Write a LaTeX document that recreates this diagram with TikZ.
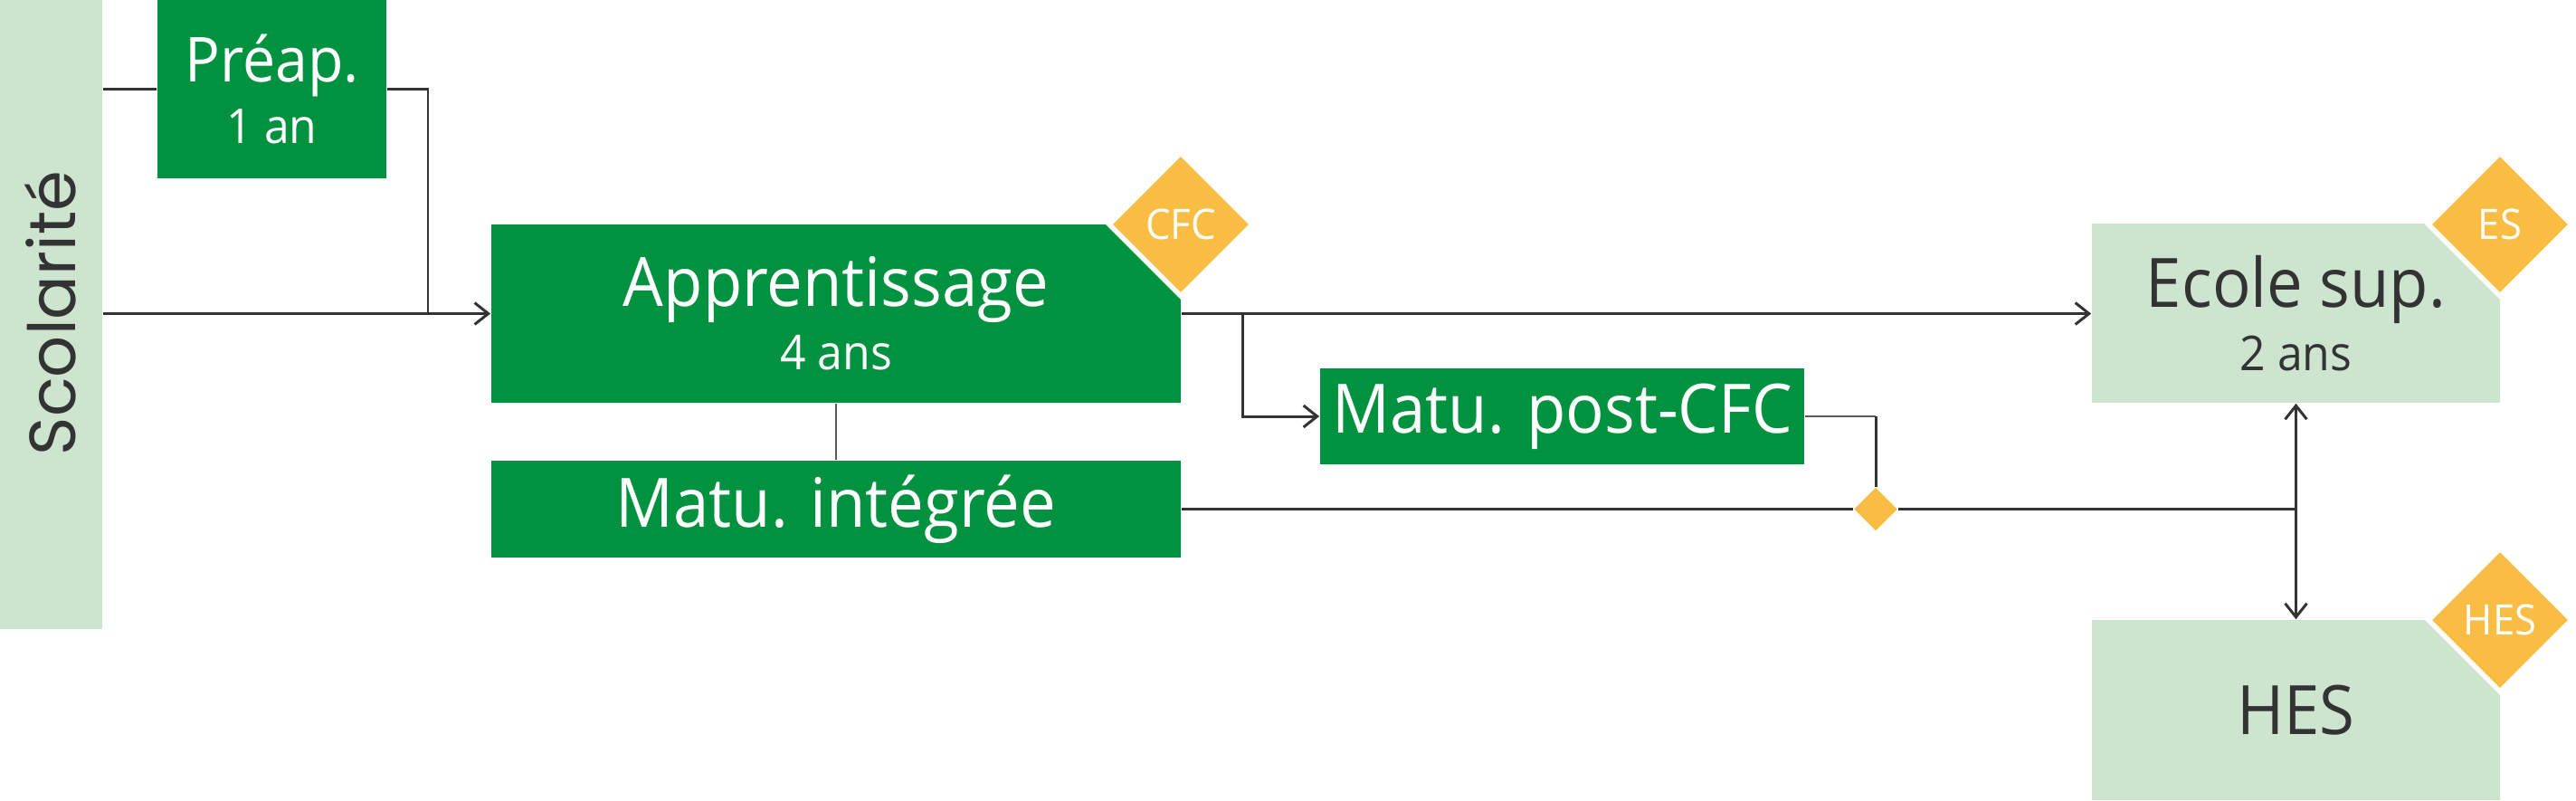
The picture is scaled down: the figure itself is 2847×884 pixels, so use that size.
\documentclass[tikz,border=0pt]{standalone}
\usepackage{fontspec}
\setmainfont{Open Sans}[FakeStretch=0.94]
\newfontfamily\scolfont{Poppins}
\usetikzlibrary{arrows.meta,shapes.geometric}
\definecolor{vert}{HTML}{00923F}
\definecolor{vertclair}{HTML}{CDE5CF}
\definecolor{jaune}{HTML}{FABD44}
\definecolor{trait}{HTML}{333333}
\definecolor{traitfin}{HTML}{5A5A5A}
\newcommand\secondline{\fontsize{15.1}{19.9}\selectfont}
\begin{document}
\begin{tikzpicture}[x=0.01cm,y=-0.01cm,
  box/.style={rectangle, inner sep=0pt, align=center, text=white, fill=vert,
    font=\fontsize{21.4}{19.9}\selectfont},
  lightbox/.style={box, fill=vertclair, text=trait},
  badge/.style={diamond, aspect=1, inner sep=0pt, minimum width=1.6cm, minimum height=1.6cm,
    fill=jaune, draw=white, line width=1.56pt, text=white, font=\fontsize{13.2}{14}\selectfont},
  joint/.style={diamond, aspect=1, inner sep=0pt, minimum width=0.48cm, minimum height=0.48cm, fill=jaune},
  link/.style={draw=trait, line width=0.85pt},
  thinlink/.style={draw=traitfin, line width=0.45pt},
  arr/.style={link, -{Straight Barb[length=4.3pt,width=6.8pt]}},
  dblarr/.style={link, {Straight Barb[length=4.3pt,width=6.8pt]}-{Straight Barb[length=4.3pt,width=6.8pt]}}
]
\useasboundingbox (0,0) rectangle (2847,884);

% Scolarite bar
\node[rectangle, fill=vertclair, inner sep=0pt, minimum width=1.13cm, minimum height=6.95cm] (scol) at (56.5,347.5) {};
\node[rotate=90, text=trait, font=\scolfont\fontsize{20.5}{24}\selectfont] (scoltext) at (56,346) {Scolarité};

% boxes
\node[box, minimum width=2.53cm, minimum height=1.97cm, font=\fontsize{19.5}{19.6}\selectfont] (prep) at (300.5,98.5)
  {Préap.\\{\fontsize{15.1}{19.6}\selectfont 1 an}};
\node[box, minimum width=7.62cm, minimum height=1.97cm] (appr) at (924,346.5)
  {Apprentissage\\{\secondline 4 ans}};
\node[box, minimum width=7.62cm, minimum height=1.07cm] (integ) at (924,562.5) {Matu. intégrée};
\node[box, minimum width=5.35cm, minimum height=1.06cm] (post) at (1726.5,460) {Matu. post-CFC};
\node[lightbox, minimum width=4.51cm, minimum height=1.98cm] (ecole) at (2537.5,346)
  {Ecole sup.\\{\secondline 2 ans}};
\node[lightbox, minimum width=4.51cm, minimum height=1.99cm] (hes) at (2537.5,784.5) {HES};

% badges
\node[badge] (cfc) at (1305,248) {CFC};
\node[badge] (es) at (2763,248) {ES};
\node[badge] (hesb) at (2763,685) {HES};

% junction diamond
\node[joint] (joint) at (2073,562.5) {};

% coordinates
\coordinate (j1) at (473,346.5);
\coordinate (j2) at (1373,346.5);
\coordinate (j3) at (2537.5,562.5);

% connectors
\draw[link] (scol.east |- prep.west) -- (prep.west);
\draw[link] (prep.east) -| (j1);
\draw[arr] (scol.east |- appr.west) -- (appr.west);
\draw[arr] (appr.east) -- (appr.east -| ecole.west);
\draw[arr] (j2) |- (post.west);
\draw[thinlink] (appr.south) -- (integ.north);
\draw[thinlink] (post.east) -- (post.east -| joint.north);
\draw[link] (post.east -| joint.north) -- (joint.north);
\draw[link] (integ.east) -- (joint.west);
\draw[link] (joint.east) -- (j3);
\draw[dblarr] (ecole.south) -- (hes.north);
\end{tikzpicture}
\end{document}
